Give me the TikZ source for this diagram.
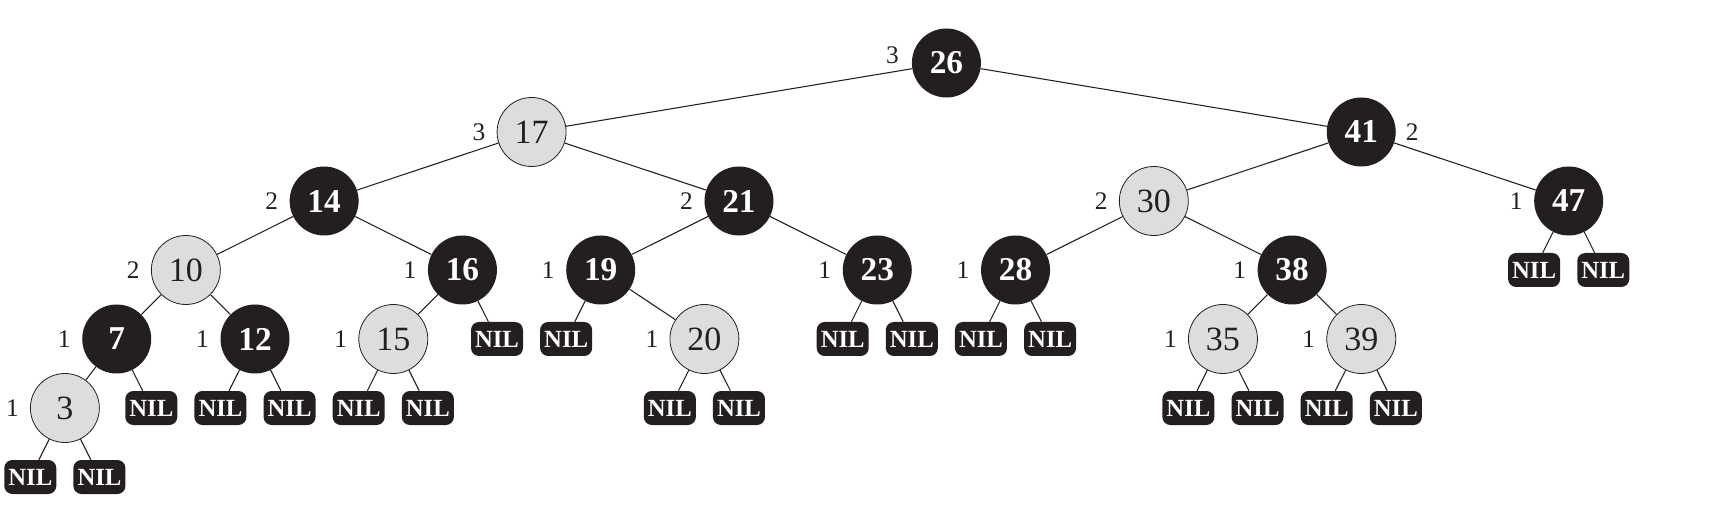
\documentclass[tikz,border=0pt]{standalone}
\usepackage{fontspec}
\setmainfont{Liberation Serif}
\definecolor{nodeblack}{HTML}{231F20}
\definecolor{nodegray}{HTML}{DCDDDF}
\begin{document}
\begin{tikzpicture}[x=25.9275pt,y=-51.75pt,
  base/.style={circle,minimum size=51.75pt,inner sep=0pt},
  bn/.style={base,fill=nodeblack,text=white,font=\fontsize{25}{25}\selectfont\bfseries},
  rn/.style={base,fill=nodegray,draw=nodeblack,line width=0.6pt,text=nodeblack,font=\fontsize{25.5}{25.5}\selectfont},
  nil/.style={rectangle,rounded corners=6pt,fill=nodeblack,text=white,minimum width=39pt,minimum height=25.5pt,inner sep=0pt,font=\fontsize{18.5}{18.5}\selectfont\bfseries},
  lbl/.style={font=\fontsize{19}{19}\selectfont,text=nodeblack},
  bh/.style={label={[lbl,xshift=-39.4pt]center:#1}},
  conn/.style={draw=nodeblack,line width=0.8pt}]
\useasboundingbox (-0.8765,-0.913) rectangle (48.762,6.623);
% level 0
\node[bn,label={[lbl,xshift=-40.5pt,yshift=6pt]center:3}] (n26) at (26.5,0) {26};
% level 1
\node[rn,bh=3] (n17) at (14.5,1) {17};
\node[bn,label={[lbl,xshift=38.25pt]center:2}] (n41) at (38.5,1) {41};
% level 2
\node[bn,bh=2] (n14) at (8.5,2) {14};
\node[bn,bh=2] (n21) at (20.5,2) {21};
\node[rn,bh=2] (n30) at (32.5,2) {30};
\node[bn,bh=1] (n47) at (44.5,2) {47};
% level 3
\node[rn,bh=2] (n10) at (4.5,3) {10};
\node[bn,bh=1] (n16) at (12.5,3) {16};
\node[bn,bh=1] (n19) at (16.5,3) {19};
\node[bn,bh=1] (n23) at (24.5,3) {23};
\node[bn,bh=1] (n28) at (28.5,3) {28};
\node[bn,bh=1] (n38) at (36.5,3) {38};
\node[nil] (l47a) at (43.5,3) {NIL};
\node[nil] (l47b) at (45.5,3) {NIL};
% level 4
\node[bn,bh=1] (n7) at (2.5,4) {7};
\node[bn,bh=1] (n12) at (6.5,4) {12};
\node[rn,bh=1] (n15) at (10.5,4) {15};
\node[nil] (l16b) at (13.5,4) {NIL};
\node[nil] (l19a) at (15.5,4) {NIL};
\node[rn,bh=1] (n20) at (19.5,4) {20};
\node[nil] (l23a) at (23.5,4) {NIL};
\node[nil] (l23b) at (25.5,4) {NIL};
\node[nil] (l28a) at (27.5,4) {NIL};
\node[nil] (l28b) at (29.5,4) {NIL};
\node[rn,bh=1] (n35) at (34.5,4) {35};
\node[rn,bh=1] (n39) at (38.5,4) {39};
% level 5
\node[rn,bh=1] (n3) at (1,5) {3};
\node[nil] (l7b) at (3.5,5) {NIL};
\node[nil] (l12a) at (5.5,5) {NIL};
\node[nil] (l12b) at (7.5,5) {NIL};
\node[nil] (l15a) at (9.5,5) {NIL};
\node[nil] (l15b) at (11.5,5) {NIL};
\node[nil] (l20a) at (18.5,5) {NIL};
\node[nil] (l20b) at (20.5,5) {NIL};
\node[nil] (l35a) at (33.5,5) {NIL};
\node[nil] (l35b) at (35.5,5) {NIL};
\node[nil] (l39a) at (37.5,5) {NIL};
\node[nil] (l39b) at (39.5,5) {NIL};
% level 6
\node[nil] (l3a) at (0,6) {NIL};
\node[nil] (l3b) at (2,6) {NIL};
% edges
\draw[conn] (n26) -- (n17);
\draw[conn] (n26) -- (n41);
\draw[conn] (n17) -- (n14);
\draw[conn] (n17) -- (n21);
\draw[conn] (n41) -- (n30);
\draw[conn] (n41) -- (n47);
\draw[conn] (n14) -- (n10);
\draw[conn] (n14) -- (n16);
\draw[conn] (n21) -- (n19);
\draw[conn] (n21) -- (n23);
\draw[conn] (n30) -- (n28);
\draw[conn] (n30) -- (n38);
\draw[conn] (n47) -- (l47a);
\draw[conn] (n47) -- (l47b);
\draw[conn] (n10) -- (n7);
\draw[conn] (n10) -- (n12);
\draw[conn] (n16) -- (n15);
\draw[conn] (n16) -- (l16b);
\draw[conn] (n19) -- (l19a);
\draw[conn] (n19) -- (n20);
\draw[conn] (n23) -- (l23a);
\draw[conn] (n23) -- (l23b);
\draw[conn] (n28) -- (l28a);
\draw[conn] (n28) -- (l28b);
\draw[conn] (n38) -- (n35);
\draw[conn] (n38) -- (n39);
\draw[conn] (n7) -- (n3);
\draw[conn] (n7) -- (l7b);
\draw[conn] (n12) -- (l12a);
\draw[conn] (n12) -- (l12b);
\draw[conn] (n15) -- (l15a);
\draw[conn] (n15) -- (l15b);
\draw[conn] (n20) -- (l20a);
\draw[conn] (n20) -- (l20b);
\draw[conn] (n35) -- (l35a);
\draw[conn] (n35) -- (l35b);
\draw[conn] (n39) -- (l39a);
\draw[conn] (n39) -- (l39b);
\draw[conn] (n3) -- (l3a);
\draw[conn] (n3) -- (l3b);
\end{tikzpicture}
\end{document}
